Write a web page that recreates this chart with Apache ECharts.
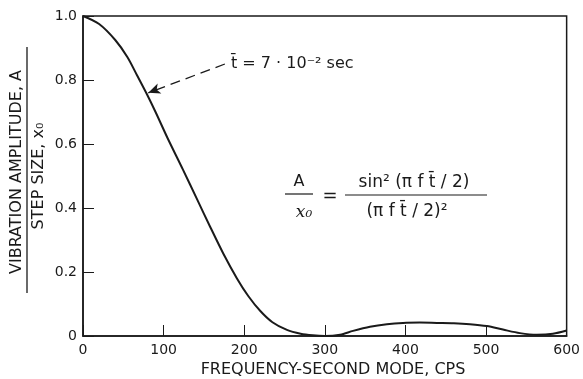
<!DOCTYPE html>
<html>
<head>
<meta charset="utf-8">
<script src="https://cdn.jsdelivr.net/npm/echarts@6/dist/echarts.min.js"></script>
<style>
  html, body { margin: 0; padding: 0; background: #fff; }
  #chart { width: 583px; height: 379px; }
</style>
</head>
<body>
<div id="chart"></div>
<script>
// frequency (cps) and amplitude ratio
const freqs = [0, 20, 40, 55, 67, 79, 90, 105, 124, 141, 158, 174, 191, 205, 220, 235, 253, 270, 285, 300,
  319, 335, 356, 377, 397, 418, 439, 460, 480, 501, 521, 542, 563, 583, 600]
const amps = [1.0, 0.975, 0.925, 0.872, 0.815, 0.757, 0.70, 0.618, 0.52, 0.43, 0.34, 0.258, 0.18, 0.125, 0.078, 0.043, 0.019, 0.007, 0.002, 0.0,
  0.004, 0.016, 0.029, 0.037, 0.041, 0.042, 0.041, 0.04, 0.037, 0.031, 0.02, 0.009, 0.004, 0.007, 0.017]

// dashed arrow from the note to the curve
const arrowFrom = [176, 0.85]
const arrowTo = [81, 0.76]

const ink = '#1a1a1a'
const font = 'DejaVu Sans'

const chart = echarts.init(document.getElementById('chart'))

const option = {
  animation: false,
  backgroundColor: '#fff',
  grid: {
    left: 83,
    right: 16,
    top: 16,
    bottom: 43,
    show: true,
    borderColor: ink,
    borderWidth: 1.5,
  },
  xAxis: {
    type: 'value',
    min: 0,
    max: 600,
    interval: 100,
    axisLine: { lineStyle: { color: ink, width: 1.5 } },
    axisTick: { inside: true, length: 11, lineStyle: { color: ink, width: 1 } },
    axisLabel: { color: ink, fontSize: 14, fontFamily: font, margin: 7 },
    splitLine: { show: false },
  },
  yAxis: {
    type: 'value',
    min: 0,
    max: 1,
    interval: 0.2,
    axisLine: { lineStyle: { color: ink, width: 1.5 } },
    axisTick: { inside: true, length: 11, lineStyle: { color: ink, width: 1 } },
    axisLabel: {
      color: ink,
      fontSize: 14,
      fontFamily: font,
      margin: 6,
      formatter: (v) => (v === 0 ? '0' : v.toFixed(1)),
    },
    splitLine: { show: false },
  },
  series: [
    {
      type: 'line',
      data: freqs.map((f, i) => [f, amps[i]]),
      smooth: 0.3,
      symbol: 'none',
      lineStyle: { color: ink, width: 2 },
      markLine: {
        silent: true,
        symbol: ['none', 'arrow'],
        symbolSize: [8, 12],
        label: { show: false },
        lineStyle: { color: ink, width: 1.3, type: [10, 6], curveness: -0.15 },
        data: [[{ coord: arrowFrom }, { coord: arrowTo }]],
      },
    },
  ],
  graphic: [
    // y axis title as a fraction
    {
      type: 'text', x: 17, y: 172, rotation: Math.PI / 2,
      style: { text: 'VIBRATION AMPLITUDE, A', fill: ink, font: '16px ' + font, align: 'center', verticalAlign: 'middle' },
    },
    {
      type: 'line', shape: { x1: 27, y1: 47, x2: 27, y2: 293 },
      style: { stroke: ink, lineWidth: 1.3 },
    },
    {
      type: 'text', x: 39, y: 176, rotation: Math.PI / 2,
      style: { text: 'STEP SIZE, x₀', fill: ink, font: '16px ' + font, align: 'center', verticalAlign: 'middle' },
    },
    // x axis title
    {
      type: 'text', x: 333, y: 370,
      style: { text: 'FREQUENCY-SECOND MODE, CPS', fill: ink, font: '16px ' + font, align: 'center', verticalAlign: 'middle' },
    },
    // note
    {
      type: 'text', x: 231, y: 64,
      style: { text: 't\u0304 = 7 · 10⁻² sec', fill: ink, font: '16px ' + font, align: 'left', verticalAlign: 'middle' },
    },
    // formula
    {
      type: 'text', x: 299, y: 182,
      style: { text: 'A', fill: ink, font: '16px ' + font, align: 'center', verticalAlign: 'middle' },
    },
    {
      type: 'line', shape: { x1: 285, y1: 194, x2: 313, y2: 194 },
      style: { stroke: ink, lineWidth: 1.2 },
    },
    {
      type: 'text', x: 304, y: 213,
      style: { text: 'x₀', fill: ink, font: 'italic 17px DejaVu Serif', align: 'center', verticalAlign: 'middle' },
    },
    {
      type: 'text', x: 330, y: 196,
      style: { text: '=', fill: ink, font: '18px ' + font, align: 'center', verticalAlign: 'middle' },
    },
    {
      type: 'text', x: 414, y: 183,
      style: { text: 'sin² (π f t\u0304 / 2)', fill: ink, font: '17px ' + font, align: 'center', verticalAlign: 'middle' },
    },
    {
      type: 'line', shape: { x1: 345, y1: 195, x2: 487, y2: 195 },
      style: { stroke: ink, lineWidth: 1.2 },
    },
    {
      type: 'text', x: 407, y: 212,
      style: { text: '(π f t\u0304 / 2)²', fill: ink, font: '17px ' + font, align: 'center', verticalAlign: 'middle' },
    },
  ],
}

chart.setOption(option)
</script>
</body>
</html>
